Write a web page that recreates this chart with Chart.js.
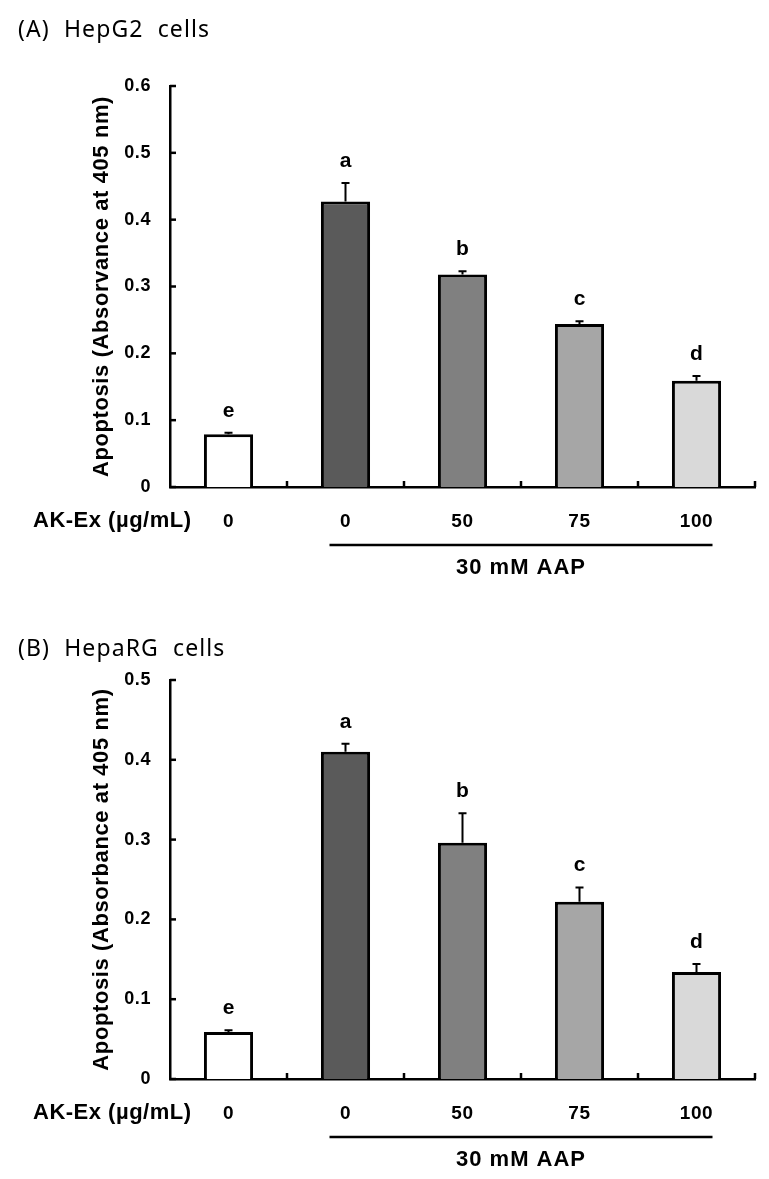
<!DOCTYPE html>
<html><head><meta charset="utf-8">
<script src="https://cdn.jsdelivr.net/npm/chart.js@4.4.1/dist/chart.umd.min.js"></script>
<style>
html,body{margin:0;padding:0;background:#fff;}
#wrap{position:relative;width:769px;height:1179px;overflow:hidden;background:#fff;}
.panel{position:absolute;left:18px;font-family:"Noto Sans","Open Sans",sans-serif;font-size:23px;letter-spacing:1.1px;white-space:pre;color:#000;line-height:23px;}
.cv{position:absolute;left:0;width:769px;}
</style></head><body>
<div id="wrap">
<div class="cv" style="top:0;height:600px"><canvas id="cA"></canvas></div>
<div class="cv" style="top:600px;height:579px"><canvas id="cB"></canvas></div>
<div class="panel" style="top:17px">(A)  HepG2  cells</div>
<div class="panel" style="top:636px">(B)  HepaRG  cells</div>
</div>
<script>
// ---- data ----
const categories = ['0', '0', '50', '75', '100'];
const xGroupLabel = 'AK-Ex (\u00b5g/mL)';
const treatmentLabel = '30 mM AAP';

const hepg2Values = [0.079, 0.427, 0.318, 0.244, 0.159];
const hepg2Errors = [0.002, 0.028, 0.005, 0.004, 0.007];
const hepg2Letters = ['e', 'a', 'b', 'c', 'd'];
const hepg2YMax = 0.6;
const hepg2YTitle = 'Apoptosis (Absorvance at 405 nm)';

const hepargValues = [0.059, 0.410, 0.296, 0.222, 0.134];
const hepargErrors = [0.002, 0.010, 0.037, 0.018, 0.010];
const hepargLetters = ['e', 'a', 'b', 'c', 'd'];
const hepargYMax = 0.5;
const hepargYTitle = 'Apoptosis (Absorbance at 405 nm)';

const yStep = 0.1;
const barColors = ['#ffffff', '#5a5a5a', '#808080', '#a6a6a6', '#d9d9d9'];

const FONT = '"Liberation Sans", Arial, Helvetica, sans-serif';

const annot = {
  id: 'annot',
  beforeDraw(chart) {
    chart.ctx.letterSpacing = '0.6px';
  },
  afterDatasetsDraw(chart, args, o) {
    const {ctx, chartArea: ca, scales: {x, y}} = chart;
    const meta = chart.getDatasetMeta(0);
    ctx.save();
    ctx.strokeStyle = '#000';
    ctx.fillStyle = '#000';
    ctx.lineWidth = 2;
    ctx.lineCap = 'butt';
    // error bars + letters
    o.values.forEach((v, i) => {
      const cx = meta.data[i].x;
      const yb = y.getPixelForValue(v);
      const yt = y.getPixelForValue(v + o.errors[i]);
      ctx.beginPath();
      ctx.moveTo(cx, yb); ctx.lineTo(cx, yt);
      ctx.moveTo(cx - 4, yt); ctx.lineTo(cx + 4, yt);
      ctx.stroke();
      ctx.font = 'bold 21px ' + FONT;
      ctx.letterSpacing = '0px';
      ctx.textAlign = 'center';
      ctx.textBaseline = 'middle';
      ctx.fillText(o.letters[i], cx, yt - 22);
    });
    // inward y ticks
    ctx.lineWidth = 2.5;
    y.ticks.forEach(t => {
      const py = y.getPixelForValue(t.value);
      ctx.beginPath(); ctx.moveTo(ca.left, py); ctx.lineTo(ca.left + 6, py); ctx.stroke();
    });
    // inward x ticks at category boundaries
    const n = categories.length;
    const step = x.getPixelForValue(1) - x.getPixelForValue(0);
    for (let i = 1; i <= n; i++) {
      const px = x.getPixelForValue(i - 1) + step / 2;
      ctx.beginPath(); ctx.moveTo(px, ca.bottom); ctx.lineTo(px, ca.bottom - 6); ctx.stroke();
    }
    // group label
    ctx.font = 'bold 22px ' + FONT;
    ctx.letterSpacing = '0.5px';
    ctx.textAlign = 'left';
    ctx.textBaseline = 'alphabetic';
    ctx.fillText(xGroupLabel, 33, ca.bottom + 40);
    // treatment bracket
    const x1 = x.getPixelForValue(1) - 16;
    const x2 = x.getPixelForValue(n - 1) + 16;
    ctx.lineWidth = 2.5;
    ctx.beginPath(); ctx.moveTo(x1, ca.bottom + 58); ctx.lineTo(x2, ca.bottom + 58); ctx.stroke();
    ctx.textAlign = 'center';
    ctx.font = 'bold 22px ' + FONT;
    ctx.letterSpacing = '1px';
    ctx.fillText(treatmentLabel, (x1 + x2) / 2, ca.bottom + 87);
    ctx.restore();
  }
};

function makeChart(id, values, errors, letters, yMax, yTitle, padTop, xHeight) {
  return new Chart(document.getElementById(id), {
    type: 'bar',
    data: {
      labels: categories,
      datasets: [{
        data: values,
        backgroundColor: barColors,
        borderColor: '#000',
        borderWidth: 3,
        barPercentage: 0.42,
        categoryPercentage: 1.0
      }]
    },
    options: {
      responsive: true,
      maintainAspectRatio: false,
      animation: false,
      events: [],
      layout: {padding: {left: 85, right: 14, top: padTop, bottom: 0}},
      plugins: {
        legend: {display: false},
        tooltip: {enabled: false},
        annot: {values, errors, letters}
      },
      scales: {
        x: {
          grid: {display: false, drawTicks: false},
          border: {display: true, color: '#000', width: 2.5},
          ticks: {color: '#000', font: {family: FONT, size: 19, weight: 'bold'}, padding: 23, maxRotation: 0},
          afterFit: s => { s.height = xHeight; }
        },
        y: {
          min: 0, max: yMax,
          grid: {display: false, drawTicks: false},
          border: {display: true, color: '#000', width: 2.5},
          ticks: {stepSize: yStep, color: '#000', font: {family: FONT, size: 18, weight: 'bold'}, padding: 19},
          title: {display: true, text: yTitle, color: '#000', font: {family: FONT, size: 22, weight: 'bold'}},
          afterFit: s => { s.width = 85; }
        }
      }
    },
    plugins: [annot]
  });
}

makeChart('cA', hepg2Values, hepg2Errors, hepg2Letters, hepg2YMax, hepg2YTitle, 86, 113);
makeChart('cB', hepargValues, hepargErrors, hepargLetters, hepargYMax, hepargYTitle, 80, 100);
</script>
</body></html>
